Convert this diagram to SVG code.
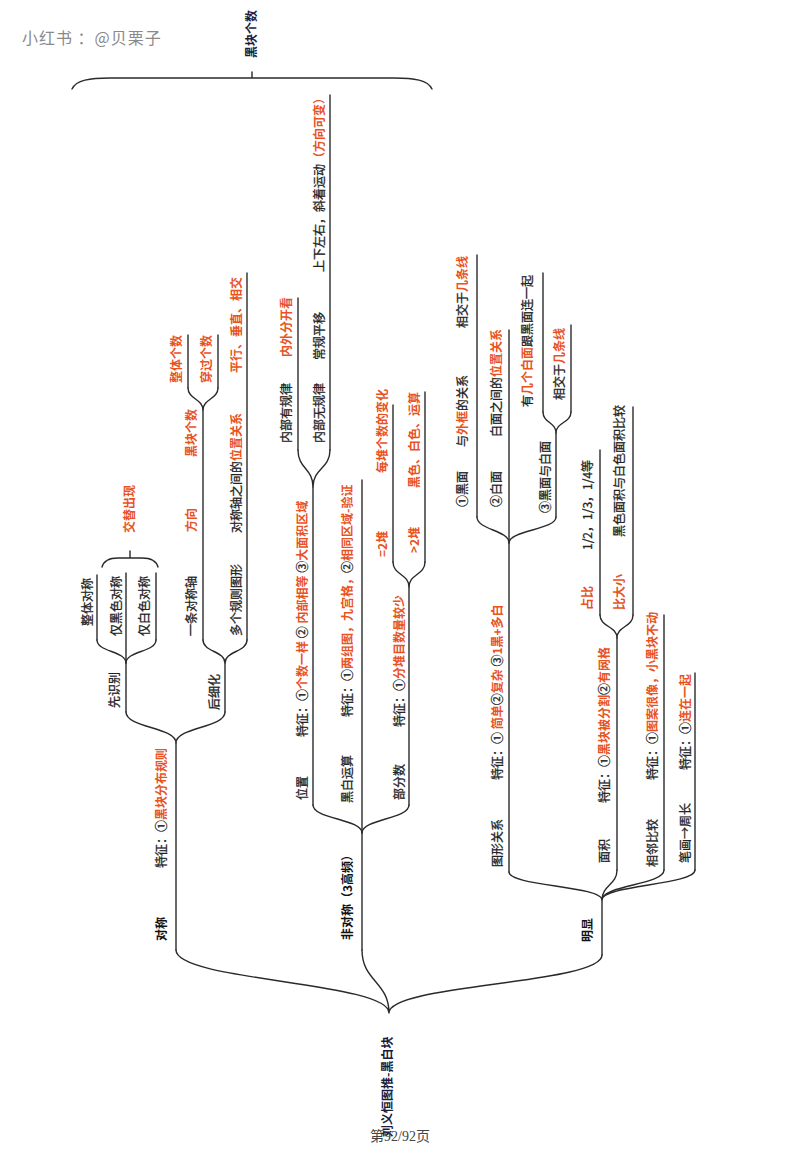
<svg xmlns="http://www.w3.org/2000/svg" width="800" height="1155" viewBox="0 0 800 1155">
<style>
.c{fill:none;stroke:#2a2a2a;stroke-width:1.4;stroke-linecap:round}
text{font-family:"Noto Sans CJK SC","Liberation Sans",sans-serif;font-size:12px;fill:#222;stroke:#222;stroke-width:0.3}
.b{font-weight:bold;fill:#111;stroke:none}
.r{fill:#e8531f;font-weight:bold;stroke:none}
.n{fill:#1c1c3c;font-weight:bold;font-size:12px;stroke:none}
.wm{font-size:16px;fill:#8a8a8a;letter-spacing:1px;stroke:none}
.ft{font-family:"Liberation Serif","Noto Sans CJK SC",serif;font-size:14px;fill:#444;stroke:none}
</style>
<rect width="800" height="1155" fill="#fff"/>
<text class="wm" x="22" y="44">小红书 ：@贝栗子</text>
<g id="summary">
<text class="n" transform="translate(256,58) rotate(-90)">黑块个数</text>
<path class="c" d="M252 72V78M72 89C76 80 90 78 110 78H394C414 78 428 80 432 89"/>
</g>
<g id="connectors">
<path class="c" d="M389 1013C389 982 176 981 176 950M389 1013C389 982 362 981 362 950M389 1013C389 984 602 984 602 955"/>
<path class="c" d="M176 743C176 727 126 728 126 712M176 743C176 727 225 728 225 712"/>
<path class="c" d="M126 663C126 651 97 652 97 640M126 663C126 651 156 652 156 640"/>
<path class="c" d="M225 663C225 651 203 652 203 640M225 663C225 651 247 652 247 640"/>
<path class="c" d="M203 410C203 399 188 399 188 388M203 410C203 399 218 399 218 388"/>
<path class="c" d="M362 833C362 819 313 819 313 805M362 833C362 819 409 819 409 805"/>
<path class="c" d="M313 487C313 468 298 469 298 450M313 487C313 468 330 469 330 450"/>
<path class="c" d="M409 587C409 574 393 575 393 562M409 587C409 574 425 575 425 562"/>
<path class="c" d="M602 900C602 886 509 886 509 872M602 900C602 885 617 885 617 870M602 900C602 885 664 885 664 870M602 900C602 885 695 885 695 870"/>
<path class="c" d="M509 543C509 530 477 530 477 517M509 543C509 530 556 530 556 517"/>
<path class="c" d="M556 433C556 422 543 423 543 412M556 433C556 422 571 423 571 412"/>
<path class="c" d="M617 638C617 626 600 627 600 615M617 638C617 626 633 627 633 615"/>
</g>
<g id="root"><text class="n" transform="translate(392,1137) rotate(-90)">刘义恒图推-黑白块</text></g>
<g id="n-duicheng">
<path class="c" d="M176 950V743"/>
<text class="b" transform="translate(166,941) rotate(-90)">对称</text>
<text transform="translate(166,868) rotate(-90)">特征：①<tspan class="r">黑块分布规则</tspan></text>
</g>
<g id="n-xianshibie"><path class="c" d="M126 712V663"/><text transform="translate(119,708) rotate(-90)">先识别</text></g>
<g id="n-zhengti"><path class="c" d="M97 640V575"/><text transform="translate(92,626) rotate(-90)">整体对称</text></g>
<g id="n-jinhei"><path class="c" d="M126 663V573"/><text transform="translate(121,636) rotate(-90)">仅黑色对称</text></g>
<g id="n-jinbai"><path class="c" d="M156 640V573"/><text transform="translate(149,636) rotate(-90)">仅白色对称</text></g>
<g id="n-brace">
<path class="c" d="M102 567C104 560 110 558 118 558H142C150 558 156 560 158 567M130 558V551"/>
<text class="r" transform="translate(134,533) rotate(-90)">交替出现</text>
</g>
<g id="n-houxihua"><path class="c" d="M225 712V663"/><text transform="translate(219,710) rotate(-90)">后细化</text></g>
<g id="n-yitiao">
<path class="c" d="M203 640V410"/>
<text transform="translate(196,636) rotate(-90)">一条对称轴</text>
<text class="r" transform="translate(196,532) rotate(-90)">方向</text>
<text class="r" transform="translate(196,457) rotate(-90)">黑块个数</text>
</g>
<g id="n-zhengtigeshu"><path class="c" d="M188 388V335"/><text class="r" transform="translate(181,383) rotate(-90)">整体个数</text></g>
<g id="n-chuanguo"><path class="c" d="M218 388V335"/><text class="r" transform="translate(211,383) rotate(-90)">穿过个数</text></g>
<g id="n-duoge">
<path class="c" d="M247 640V273"/>
<text transform="translate(241,636) rotate(-90)">多个规则图形</text>
<text transform="translate(241,533) rotate(-90)">对称轴之间的<tspan class="r">位置关系</tspan></text>
<text class="r" transform="translate(241,373) rotate(-90)">平行、垂直、相交</text>
</g>
<g id="n-feiduicheng">
<path class="c" d="M362 950V833"/>
<text class="b" transform="translate(352,940) rotate(-90)">非对称（3高频）</text>
</g>
<g id="n-weizhi">
<path class="c" d="M313 805V487"/>
<text transform="translate(307,800) rotate(-90)">位置</text>
<text transform="translate(307,737) rotate(-90)">特征：①<tspan class="r">个数一样</tspan> ② <tspan class="r">内部相等</tspan> ③<tspan class="r">大面积区域</tspan></text>
</g>
<g id="n-youguilv">
<path class="c" d="M298 450V298"/>
<text transform="translate(291,443) rotate(-90)">内部有规律</text>
<text class="r" transform="translate(291,357) rotate(-90)">内外分开看</text>
</g>
<g id="n-wuguilv">
<path class="c" d="M330 450V95"/>
<text transform="translate(324,443) rotate(-90)">内部无规律</text>
<text transform="translate(324,360) rotate(-90)">常规平移</text>
<text transform="translate(324,272) rotate(-90)">上下左右，斜着运动<tspan class="r">（方向可变）</tspan></text>
</g>
<g id="n-heibai">
<path class="c" d="M362 833V480"/>
<text transform="translate(352,803) rotate(-90)">黑白运算</text>
<text transform="translate(352,717) rotate(-90)">特征：①<tspan class="r">两组图，九宫格，</tspan>②<tspan class="r">相同区域-验证</tspan></text>
</g>
<g id="n-bufenshu">
<path class="c" d="M409 805V587"/>
<text transform="translate(404,800) rotate(-90)">部分数</text>
<text transform="translate(404,727) rotate(-90)">特征：①<tspan class="r">分堆目数量较少</tspan></text>
</g>
<g id="n-eq2">
<path class="c" d="M393 562V405"/>
<text class="r" transform="translate(387,557) rotate(-90)">=2堆</text>
<text class="r" transform="translate(387,473) rotate(-90)">每堆个数的变化</text>
</g>
<g id="n-gt2">
<path class="c" d="M425 562V392"/>
<text class="r" transform="translate(419,553) rotate(-90)">&gt;2堆</text>
<text class="r" transform="translate(419,488) rotate(-90)">黑色、白色、运算</text>
</g>
<g id="n-mingxian">
<path class="c" d="M602 955V900"/>
<text class="b" transform="translate(592,942) rotate(-90)">明显</text>
</g>
<g id="n-tuxing">
<path class="c" d="M509 872V543"/>
<text transform="translate(502,867) rotate(-90)">图形关系</text>
<text transform="translate(502,780) rotate(-90)">特征：① <tspan class="r">简单</tspan>②<tspan class="r">复杂</tspan> ③<tspan class="r">1黑+多白</tspan></text>
</g>
<g id="n-heimian">
<path class="c" d="M477 517V255"/>
<text transform="translate(467,507) rotate(-90)">①黑面</text>
<text transform="translate(467,447) rotate(-90)">与<tspan class="r">外框</tspan>的关系</text>
<text transform="translate(467,328) rotate(-90)">相交于<tspan class="r">几条线</tspan></text>
</g>
<g id="n-baimian">
<path class="c" d="M509 543V330"/>
<text transform="translate(501,507) rotate(-90)">②白面</text>
<text transform="translate(501,437) rotate(-90)">白面之间的<tspan class="r">位置关系</tspan></text>
</g>
<g id="n-heibaimian">
<path class="c" d="M556 517V433"/>
<text transform="translate(550,513) rotate(-90)">③黑面与白面</text>
</g>
<g id="n-lianyiqi">
<path class="c" d="M543 412V273"/>
<text transform="translate(532,407) rotate(-90)">有<tspan class="r">几个白面</tspan>跟黑面连一起</text>
</g>
<g id="n-xiangjiao2">
<path class="c" d="M571 412V325"/>
<text transform="translate(564,400) rotate(-90)">相交于<tspan class="r">几条线</tspan></text>
</g>
<g id="n-mianji">
<path class="c" d="M617 870V638"/>
<text transform="translate(609,863) rotate(-90)">面积</text>
<text transform="translate(609,803) rotate(-90)">特征：①<tspan class="r">黑块被分割</tspan>②<tspan class="r">有网格</tspan></text>
</g>
<g id="n-zhanbi">
<path class="c" d="M600 615V450"/>
<text class="r" transform="translate(592,610) rotate(-90)">占比</text>
<text transform="translate(592,550) rotate(-90)">1/2，1/3，1/4等</text>
</g>
<g id="n-bidaxiao">
<path class="c" d="M633 615V407"/>
<text class="r" transform="translate(624,610) rotate(-90)">比大小</text>
<text transform="translate(624,537) rotate(-90)">黑色面积与白色面积比较</text>
</g>
<g id="n-xianglin">
<path class="c" d="M664 870V615"/>
<text transform="translate(657,867) rotate(-90)">相邻比较</text>
<text transform="translate(657,780) rotate(-90)">特征：①<tspan class="r">图案很像，小黑块不动</tspan></text>
</g>
<g id="n-bihua">
<path class="c" d="M695 870V673"/>
<text transform="translate(690,863) rotate(-90)">笔画→周长</text>
<text transform="translate(690,770) rotate(-90)">特征：①<tspan class="r">连在一起</tspan></text>
</g>
<text class="ft" x="400" y="1141" text-anchor="middle">第92/92页</text>
</svg>
